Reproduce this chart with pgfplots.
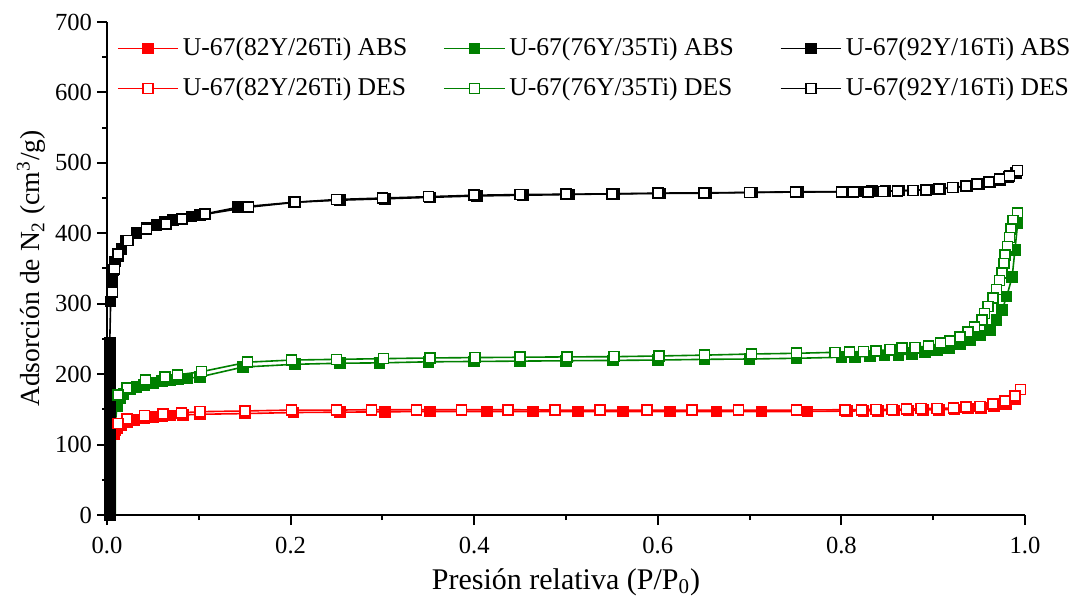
\documentclass[border=0pt]{standalone}
\usepackage{fontspec}
\setmainfont{Liberation Serif}
\usepackage{pgfplots}
\pgfplotsset{compat=1.18}
\definecolor{cred}{RGB}{255,0,0}
\definecolor{cgreen}{RGB}{0,128,0}
\begin{document}
\begin{tikzpicture}
\begin{axis}[
  scale only axis, width=459pt, height=246.5pt,
  xmin=0, xmax=1, ymin=0, ymax=700,
  axis x line*=bottom, axis y line*=left,
  axis line style={line width=1pt},
  xtick={0,0.2,0.4,0.6,0.8,1.0}, minor x tick num=1,
  ytick={0,100,...,700}, minor y tick num=1,
  tick align=outside, major tick length=5pt, minor tick length=2.5pt,
  tick style={line width=1pt, black},
  /pgf/number format/assume math mode=true,
  xticklabel style={yshift=-2.5pt, /pgf/number format/.cd, fixed, fixed zerofill, precision=1},
  yticklabel style={xshift=1pt},
  ticklabel style={font=\fontsize{12.3}{14}\selectfont},
  xlabel={Presión relativa (P/P\textsubscript{0})},
  ylabel={Adsorción de N\textsubscript{2} (cm\textsuperscript{3}/g)},
  xlabel style={font=\fontsize{15}{17}\selectfont, at={(axis description cs:0.5,0)}, anchor=base, yshift=-37pt},
  ylabel style={font=\fontsize{13.8}{16}\selectfont, at={(axis description cs:0,0.5)}, anchor=base, yshift=33.5pt},
  every axis plot/.append style={line width=0.8pt, mark size=2.5pt},
  legend columns=3,
  legend cell align=left,
  legend image code/.code={\draw[mark repeat=2,mark phase=2] plot coordinates {(0cm,0cm)(0.53cm,0cm)(1.06cm,0cm)};},
  legend style={draw=none, fill=none, at={(0.0105,0.976)}, anchor=north west,
    font=\fontsize{12.8}{15}\selectfont, inner sep=0pt, row sep=5.5pt,
    /tikz/column 2/.style={column sep=16pt},
    /tikz/column 4/.style={column sep=21pt}},
]
\coordinate (bbsw) at (rel axis cs:0,0);
\coordinate (bbne) at (rel axis cs:1,1);
% thin vertical segments without marks
\addplot[cred, no marks, forget plot] coordinates {(0.007,0)(0.007,100)(0.008,115)};
\addplot[cgreen, no marks, forget plot] coordinates {(0.009,0)(0.009,130)(0.011,155)};

% red ABS
\addplot[cred, mark=square*, mark options={fill=cred, solid}] coordinates {
(0.008,115)(0.009,120)(0.011,123)(0.015,128)(0.022,132)(0.03,135)(0.041,137)(0.05,139)(0.06,140)(0.069,141)(0.083,142)(0.101,143)(0.150,144)(0.203,145.5)(0.254,146)(0.303,146.5)(0.352,147)(0.414,147)(0.464,147)(0.513,147)(0.562,147)(0.613,147)(0.664,147)(0.713,147)(0.763,147)(0.806,147.5)(0.824,148)(0.840,148)(0.857,148.5)(0.873,148.5)(0.889,149)(0.906,149.5)(0.923,150)(0.938,151)(0.952,152)(0.966,154)(0.979,158)(0.989,165)};
\addlegendentry{U-67(82Y/26Ti) ABS}
% green ABS
\addplot[cgreen, mark=square*, mark options={fill=cgreen, solid}] coordinates {
(0.011,155)(0.014,166)(0.018,172)(0.025,178)(0.032,182)(0.04,185)(0.05,187)(0.06,190)(0.069,192)(0.078,193)(0.087,194)(0.101,196)(0.148,210)(0.205,214)(0.254,215.5)(0.297,216)(0.35,217.5)(0.40,218)(0.45,218.5)(0.50,219)(0.551,219.5)(0.600,220)(0.651,221)(0.700,221.5)(0.751,222.5)(0.80,224)(0.815,224.5)(0.831,225.5)(0.847,226.5)(0.862,227.5)(0.877,229)(0.891,231)(0.904,234)(0.917,237)(0.929,243)(0.94,248)(0.951,255)(0.962,263)(0.969,277)(0.975,291)(0.98,310)(0.986,338)(0.989,376)(0.992,414)};
\addlegendentry{U-67(76Y/35Ti) ABS}
% black ABS
\addplot[black, mark=square*, mark options={fill=black, solid}] coordinates {
(0.003,0)(0.003,14)(0.003,28)(0.003,42)(0.003,56)(0.003,70)(0.003,84)(0.003,98)(0.003,112)(0.003,126)(0.003,140)(0.003,154)(0.003,168)(0.003,182)(0.003,196)(0.003,210)(0.003,224)(0.003,238)(0.003,245)(0.004,303)(0.005,320)(0.006,334)(0.007,348)(0.009,360)(0.012,368)(0.016,378)(0.021,390)(0.032,400)(0.043,408)(0.054,412)(0.063,416)(0.072,419)(0.081,421)(0.092,424)(0.101,426)(0.143,437)(0.203,444)(0.254,447)(0.303,449)(0.352,451)(0.403,453)(0.453,454)(0.503,455)(0.553,456)(0.603,456.5)(0.653,457)(0.703,458)(0.753,458.5)(0.803,459)(0.818,459.5)(0.833,460)(0.848,460)(0.863,460.5)(0.878,461)(0.893,462)(0.908,463)(0.922,465)(0.937,467)(0.950,470)(0.962,473)(0.973,476)(0.982,480)(0.990,486)};
\addlegendentry{U-67(92Y/16Ti) ABS}
% red DES
\addplot[cred, mark=square*, mark options={fill=white, solid}] coordinates {
(0.995,178)(0.989,169)(0.978,162)(0.965,157.6)(0.951,154)(0.936,153)(0.922,152)(0.904,151.5)(0.887,151)(0.871,150.5)(0.855,150)(0.838,150)(0.822,149.5)(0.804,149.5)(0.751,149)(0.688,149)(0.637,149)(0.588,149)(0.537,149)(0.488,149)(0.437,149.5)(0.386,149.5)(0.337,149.5)(0.288,149.5)(0.25,149)(0.201,149)(0.15,147.7)(0.101,146.7)(0.081,145)(0.061,143)(0.041,141)(0.022,136)(0.012,130)};
\addlegendentry{U-67(82Y/26Ti) DES}
% green DES
\addplot[cgreen, mark=square*, mark options={fill=white, solid}] coordinates {
(0.992,429)(0.987,418)(0.985,406)(0.983,394)(0.981,381)(0.978,369)(0.977,357)(0.975,344)(0.972,333)(0.969,320)(0.965,308)(0.96,296)(0.956,286)(0.953,277)(0.945,267)(0.938,260)(0.929,253)(0.918,247)(0.908,243.8)(0.895,240)(0.880,238)(0.866,236.7)(0.853,235)(0.838,233)(0.824,232)(0.809,231.5)(0.793,231)(0.751,229.6)(0.702,228.6)(0.651,227)(0.601,225.8)(0.552,224.8)(0.501,224.5)(0.450,224)(0.401,223.5)(0.352,223)(0.301,222)(0.250,221)(0.201,220)(0.153,217)(0.103,203.5)(0.077,199)(0.063,196)(0.042,192)(0.022,180)(0.012,170)};
\addlegendentry{U-67(76Y/35Ti) DES}
% black DES
\addplot[black, mark=square*, mark options={fill=white, solid}] coordinates {
(0.992,489)(0.983,481)(0.972,477)(0.961,473)(0.948,470)(0.936,467)(0.921,465)(0.906,463)(0.892,461.5)(0.878,461)(0.861,460)(0.845,459.5)(0.829,459)(0.813,459)(0.80,459)(0.75,459)(0.70,458)(0.65,457.5)(0.60,457)(0.55,456)(0.50,455.5)(0.45,455)(0.40,454)(0.35,452)(0.30,450)(0.25,448)(0.205,444)(0.154,437)(0.107,427)(0.082,420)(0.064,413)(0.043,406)(0.023,390)(0.012,371)(0.008,349)(0.006,317)};
\addlegendentry{U-67(92Y/16Ti) DES}
\end{axis}
\pgfresetboundingbox
\path[use as bounding box] ([xshift=-53.5pt,yshift=-47.5pt]bbsw) rectangle ([xshift=28pt,yshift=11pt]bbne);
\end{tikzpicture}
\end{document}
